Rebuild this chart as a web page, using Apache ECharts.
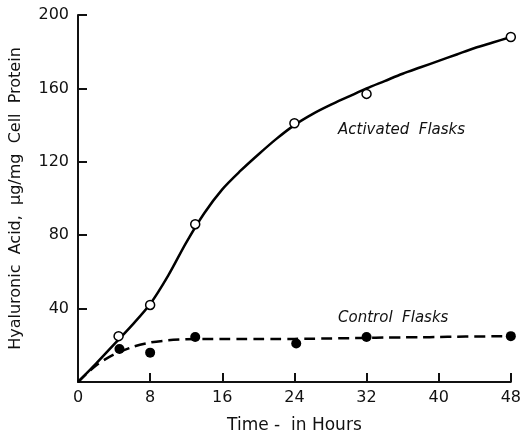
<!DOCTYPE html>
<html>
<head>
<meta charset="utf-8">
<script src="https://cdn.jsdelivr.net/npm/echarts@6/dist/echarts.min.js"></script>
<style>
  html, body { margin: 0; padding: 0; background: #fff; }
  #main { width: 524px; height: 439px; }
</style>
</head>
<body>
<div id="main"></div>
<script>
// measured points (hours, ug/mg cell protein)
var activatedPts = [[4.5, 25], [8, 42], [13, 86], [24, 141], [32, 157], [48, 188]];
var controlPts = [[4.6, 18], [8, 16], [13, 24.5], [24.2, 21], [32, 24.5], [48, 25]];

// hand drawn fitted curves, every 2 hours
var curveHours = [0, 2, 4, 6, 8, 10, 12, 14, 16, 18, 20, 22, 24, 26, 28, 30, 32, 34, 36, 38, 40, 42, 44, 46, 48];
var activatedCurve = [0, 10, 20.5, 31, 42.5, 58, 76, 92, 105, 115, 124, 132.5, 140, 146, 151, 155.5, 160, 164, 168, 171.5, 175, 178.5, 182, 185, 188];
var controlCurve = [0, 9, 15, 19, 21.5, 22.7, 23.3, 23.5, 23.5, 23.5, 23.5, 23.5, 23.5, 23.6, 23.7, 23.9, 24, 24.2, 24.3, 24.4, 24.5, 24.7, 24.8, 24.9, 25];

function pairs(xs, ys) {
  return xs.map(function (x, i) { return [x, ys[i]]; });
}

var font = 'DejaVu Sans';
var chart = echarts.init(document.getElementById('main'));

var option = {
  animation: false,
  backgroundColor: '#fff',
  grid: { left: 76, right: 9, top: 15, bottom: 52 },
  xAxis: {
    type: 'value',
    min: 0, max: 48, interval: 8,
    name: 'Time -  in Hours',
    nameLocation: 'middle',
    nameGap: 35,
    nameTextStyle: { fontFamily: font, fontSize: 17, color: '#111' },
    axisLine: { lineStyle: { color: '#111', width: 2 } },
    axisTick: { inside: true, length: 9, lineStyle: { color: '#111', width: 2 } },
    axisLabel: { fontFamily: font, fontSize: 16, color: '#111', margin: 8 },
    splitLine: { show: false }
  },
  yAxis: {
    type: 'value',
    min: 0, max: 200, interval: 40,
    name: 'Hyaluronic  Acid,  \u03bcg/mg  Cell  Protein',
    nameLocation: 'middle',
    nameGap: 54,
    nameTextStyle: { fontFamily: font, fontSize: 16, color: '#111' },
    axisLine: { show: true, lineStyle: { color: '#111', width: 2 } },
    axisTick: { show: true, inside: true, length: 9, lineStyle: { color: '#111', width: 2 } },
    axisLabel: {
      fontFamily: font, fontSize: 16, color: '#111', margin: 9,
      formatter: function (v) { return v === 0 ? '' : v; }
    },
    splitLine: { show: false }
  },
  series: [
    {
      type: 'line', data: pairs(curveHours, activatedCurve), smooth: 0.3, showSymbol: false,
      lineStyle: { color: '#000', width: 2.5 }, z: 2
    },
    {
      type: 'line', data: pairs(curveHours, controlCurve), smooth: 0.3, showSymbol: false,
      lineStyle: { color: '#000', width: 2.5, type: [11, 6] }, z: 2
    },
    {
      type: 'scatter', data: activatedPts, symbol: 'circle', symbolSize: 9,
      itemStyle: { color: '#fff', borderColor: '#000', borderWidth: 1.5, opacity: 1 }, z: 3
    },
    {
      type: 'scatter', data: controlPts, symbol: 'circle', symbolSize: 10,
      itemStyle: { color: '#000', opacity: 1 }, z: 3
    }
  ],
  graphic: [
    {
      type: 'text', left: 338, top: 123,
      style: { text: 'Activated  Flasks', font: 'italic 15px ' + font, fill: '#111' }
    },
    {
      type: 'text', left: 338, top: 311,
      style: { text: 'Control  Flasks', font: 'italic 15px ' + font, fill: '#111' }
    }
  ]
};

chart.setOption(option);
</script>
</body>
</html>
